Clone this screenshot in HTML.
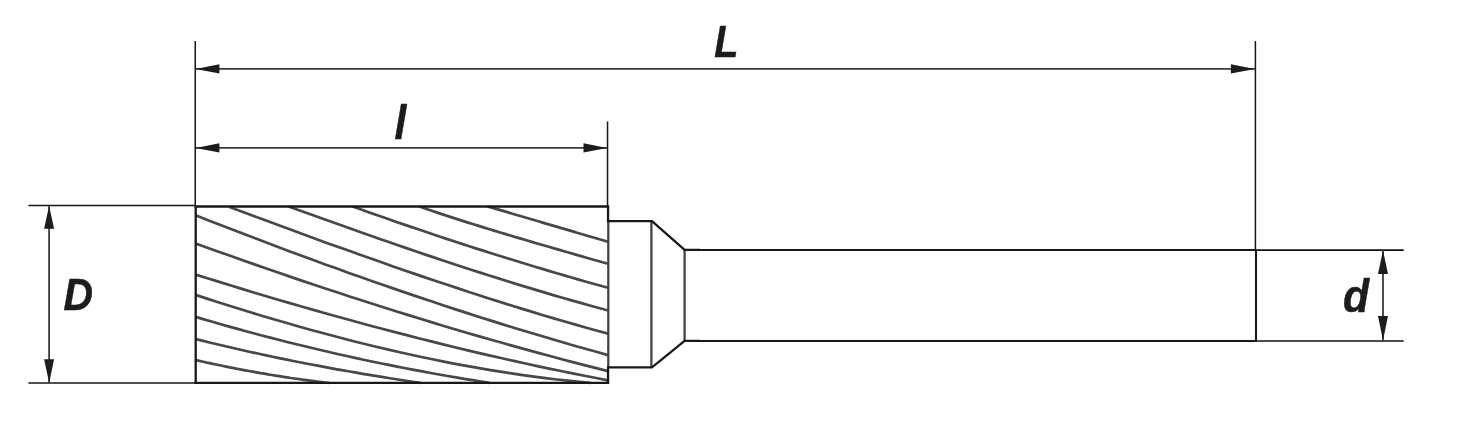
<!DOCTYPE html>
<html><head><meta charset="utf-8"><title>Drawing</title>
<style>
html,body{margin:0;padding:0;background:#fff;}
svg{display:block}
text{font-family:"Liberation Sans",sans-serif;font-weight:bold;font-style:italic;fill:#1c1c1c}
</style></head><body>
<svg width="1469" height="422" viewBox="0 0 1469 422">
<rect width="1469" height="422" fill="#fff"/>
<!-- extension lines -->
<g stroke="#161616" stroke-width="1.5" fill="none">
<path d="M195.25 41 V206"/>
<path d="M607.55 121.4 V206"/>
<path d="M1255.4 41 V250"/>
<path d="M28.4 205.6 H195"/>
<path d="M28.4 383.0 H195" stroke-width="1.6"/>
<path d="M1256 250.05 H1403.7" stroke-width="1.65" stroke="#101010"/>
<path d="M1256 341.0 H1403.7" stroke-width="1.65" stroke="#101010"/>
</g>
<!-- dimension lines -->
<g stroke="#3a3a3a" stroke-width="1.8" fill="none">
<path d="M196 68.95 H1255"/>
<path d="M196 147.95 H607"/>
<path d="M49.1 206 V383"/>
<path d="M1383 250 V341"/>
</g>
<!-- arrowheads -->
<g fill="#1c1c1c">
<path d="M195.6 68.95 L219.4 64.35 V73.55 Z"/>
<path d="M1255 68.95 L1230.9 64.35 V73.55 Z"/>
<path d="M195.6 147.95 L219.4 143.35 V152.55 Z"/>
<path d="M607.2 147.95 L583.5 143.35 V152.55 Z"/>
<path d="M49.1 205.9 L44.1 228.7 H54.1 Z"/>
<path d="M49.1 382.7 L44.1 359.2 H54.1 Z"/>
<path d="M1383 250.2 L1378 274.1 H1388 Z"/>
<path d="M1383 340.6 L1378 316.1 H1388 Z"/>
</g>
<!-- flutes -->
<g stroke="#484848" stroke-width="2.7" fill="none" stroke-linecap="butt">
<path d="M195.6 360.0 L199.4 360.9 L203.2 361.7 L207.0 362.6 L210.8 363.4 L214.7 364.2 L218.5 365.0 L222.3 365.8 L226.1 366.6 L229.9 367.4 L233.7 368.1 L237.5 368.9 L241.3 369.6 L245.1 370.3 L249.0 371.0 L252.8 371.7 L256.6 372.4 L260.4 373.1 L264.2 373.7 L268.0 374.4 L271.8 375.0 L275.6 375.6 L279.5 376.2 L283.3 376.8 L287.1 377.4 L290.9 378.0 L294.7 378.5 L298.5 379.0 L302.3 379.6 L306.1 380.1 L309.9 380.6 L313.8 381.1 L317.6 381.6 L321.4 382.0 L325.2 382.5 L329.0 382.9"/>
<path d="M195.6 339.0 L202.0 340.6 L208.5 342.2 L214.9 343.8 L221.3 345.3 L227.7 346.8 L234.2 348.3 L240.6 349.8 L247.0 351.2 L253.4 352.6 L259.9 354.0 L266.3 355.4 L272.7 356.8 L279.1 358.1 L285.6 359.4 L292.0 360.7 L298.4 362.0 L304.8 363.3 L311.3 364.5 L317.7 365.7 L324.1 366.9 L330.5 368.1 L337.0 369.3 L343.4 370.4 L349.8 371.5 L356.2 372.7 L362.7 373.8 L369.1 374.8 L375.5 375.9 L381.9 376.9 L388.4 378.0 L394.8 379.0 L401.2 380.0 L407.6 381.0 L414.1 382.0 L420.5 382.9"/>
<path d="M195.6 316.9 L204.0 319.4 L212.4 321.8 L220.8 324.2 L229.2 326.6 L237.6 328.9 L246.0 331.2 L254.4 333.5 L262.8 335.7 L271.2 337.9 L279.6 340.0 L288.0 342.2 L296.4 344.3 L304.8 346.3 L313.2 348.3 L321.6 350.3 L330.0 352.2 L338.4 354.2 L346.7 356.0 L355.1 357.9 L363.5 359.7 L371.9 361.5 L380.3 363.2 L388.7 364.9 L397.1 366.6 L405.5 368.3 L413.9 369.9 L422.3 371.4 L430.7 373.0 L439.1 374.5 L447.5 376.0 L455.9 377.4 L464.3 378.9 L472.7 380.2 L481.1 381.6 L489.5 382.9"/>
<path d="M195.6 294.9 L206.9 298.6 L218.2 302.2 L229.4 305.8 L240.7 309.3 L252.0 312.8 L263.3 316.2 L274.6 319.5 L285.9 322.8 L297.1 326.0 L308.4 329.2 L319.7 332.3 L331.0 335.3 L342.3 338.3 L353.6 341.2 L364.8 344.0 L376.1 346.8 L387.4 349.4 L398.7 352.0 L410.0 354.5 L421.3 357.0 L432.5 359.3 L443.8 361.6 L455.1 363.8 L466.4 365.9 L477.7 367.9 L489.0 369.9 L500.2 371.7 L511.5 373.4 L522.8 375.1 L534.1 376.6 L545.4 378.1 L556.7 379.5 L567.9 380.7 L579.2 381.9 L590.5 382.9"/>
<path d="M195.6 274.6 L207.4 278.3 L219.2 281.9 L230.9 285.5 L242.7 289.1 L254.5 292.7 L266.3 296.2 L278.1 299.7 L289.9 303.1 L301.6 306.5 L313.4 309.9 L325.2 313.2 L337.0 316.5 L348.8 319.8 L360.6 323.0 L372.3 326.2 L384.1 329.3 L395.9 332.4 L407.7 335.4 L419.5 338.5 L431.3 341.4 L443.0 344.4 L454.8 347.2 L466.6 350.1 L478.4 352.9 L490.2 355.6 L502.0 358.3 L513.7 360.9 L525.5 363.5 L537.3 366.1 L549.1 368.6 L560.9 371.0 L572.7 373.4 L584.4 375.8 L596.2 378.0 L608.0 380.3"/>
<path d="M195.6 243.4 L207.4 247.7 L219.2 251.9 L230.9 256.1 L242.7 260.3 L254.5 264.4 L266.3 268.5 L278.1 272.5 L289.9 276.6 L301.6 280.6 L313.4 284.5 L325.2 288.5 L337.0 292.3 L348.8 296.2 L360.6 300.0 L372.3 303.8 L384.1 307.5 L395.9 311.2 L407.7 314.9 L419.5 318.5 L431.3 322.1 L443.0 325.7 L454.8 329.2 L466.6 332.7 L478.4 336.1 L490.2 339.5 L502.0 342.8 L513.7 346.1 L525.5 349.4 L537.3 352.6 L549.1 355.8 L560.9 359.0 L572.7 362.1 L584.4 365.1 L596.2 368.1 L608.0 371.1"/>
<path d="M195.6 215.3 L207.4 219.9 L219.2 224.5 L230.9 229.1 L242.7 233.6 L254.5 238.1 L266.3 242.6 L278.1 247.0 L289.9 251.4 L301.6 255.8 L313.4 260.1 L325.2 264.4 L337.0 268.6 L348.8 272.9 L360.6 277.1 L372.3 281.2 L384.1 285.3 L395.9 289.4 L407.7 293.4 L419.5 297.4 L431.3 301.3 L443.0 305.2 L454.8 309.1 L466.6 312.9 L478.4 316.7 L490.2 320.4 L502.0 324.1 L513.7 327.7 L525.5 331.3 L537.3 334.8 L549.1 338.3 L560.9 341.8 L572.7 345.2 L584.4 348.5 L596.2 351.8 L608.0 355.1"/>
<path d="M229.5 207.1 L240.3 211.1 L251.1 215.1 L261.9 219.1 L272.8 223.1 L283.6 227.1 L294.4 231.1 L305.2 235.0 L316.0 238.9 L326.8 242.9 L337.6 246.8 L348.5 250.6 L359.3 254.5 L370.1 258.3 L380.9 262.1 L391.7 265.9 L402.5 269.7 L413.3 273.4 L424.2 277.1 L435.0 280.7 L445.8 284.3 L456.6 287.9 L467.4 291.5 L478.2 295.0 L489.0 298.5 L499.9 301.9 L510.7 305.3 L521.5 308.6 L532.3 311.9 L543.1 315.2 L553.9 318.4 L564.7 321.5 L575.6 324.6 L586.4 327.7 L597.2 330.7 L608.0 333.6"/>
<path d="M288.5 206.5 L297.6 209.7 L306.8 213.0 L315.9 216.3 L325.0 219.6 L334.1 222.8 L343.3 226.1 L352.4 229.3 L361.5 232.5 L370.7 235.7 L379.8 238.9 L388.9 242.1 L398.0 245.2 L407.2 248.4 L416.3 251.5 L425.4 254.6 L434.6 257.6 L443.7 260.7 L452.8 263.7 L461.9 266.7 L471.1 269.7 L480.2 272.6 L489.3 275.5 L498.5 278.4 L507.6 281.3 L516.7 284.1 L525.8 286.9 L535.0 289.6 L544.1 292.4 L553.2 295.1 L562.4 297.7 L571.5 300.4 L580.6 302.9 L589.7 305.5 L598.9 308.0 L608.0 310.5"/>
<path d="M352.5 206.5 L359.8 209.1 L367.1 211.7 L374.4 214.3 L381.7 216.8 L389.0 219.3 L396.3 221.9 L403.6 224.4 L410.9 226.9 L418.2 229.3 L425.5 231.8 L432.8 234.2 L440.1 236.7 L447.4 239.1 L454.7 241.5 L462.0 243.9 L469.3 246.2 L476.6 248.6 L483.9 250.9 L491.2 253.2 L498.5 255.5 L505.8 257.8 L513.1 260.0 L520.4 262.3 L527.7 264.5 L535.0 266.7 L542.3 268.9 L549.6 271.1 L556.9 273.2 L564.2 275.4 L571.5 277.5 L578.8 279.6 L586.1 281.7 L593.4 283.7 L600.7 285.8 L608.0 287.8"/>
<path d="M419.5 206.6 L424.9 208.5 L430.3 210.3 L435.7 212.1 L441.0 213.9 L446.4 215.6 L451.8 217.4 L457.2 219.1 L462.6 220.9 L468.0 222.6 L473.4 224.3 L478.7 225.9 L484.1 227.6 L489.5 229.2 L494.9 230.9 L500.3 232.5 L505.7 234.1 L511.1 235.8 L516.4 237.4 L521.8 238.9 L527.2 240.5 L532.6 242.1 L538.0 243.7 L543.4 245.3 L548.8 246.8 L554.1 248.4 L559.5 249.9 L564.9 251.5 L570.3 253.0 L575.7 254.6 L581.1 256.1 L586.5 257.7 L591.8 259.2 L597.2 260.7 L602.6 262.3 L608.0 263.8"/>
<path d="M487.5 206.5 L490.9 207.4 L494.4 208.4 L497.8 209.4 L501.3 210.4 L504.7 211.4 L508.2 212.4 L511.6 213.5 L515.0 214.5 L518.5 215.5 L521.9 216.5 L525.4 217.5 L528.8 218.5 L532.3 219.5 L535.7 220.5 L539.1 221.5 L542.6 222.6 L546.0 223.6 L549.5 224.6 L552.9 225.6 L556.4 226.6 L559.8 227.6 L563.2 228.6 L566.7 229.6 L570.1 230.6 L573.6 231.6 L577.0 232.7 L580.5 233.7 L583.9 234.7 L587.3 235.7 L590.8 236.7 L594.2 237.7 L597.7 238.7 L601.1 239.7 L604.6 240.7 L608.0 241.7"/>
</g>
<!-- inner gray outlines -->
<g stroke="#444" stroke-width="2.3" fill="none">
<path d="M608.3 221 V367.4"/>
<path d="M651.4 221 V367.4"/>
<path d="M684.6 250 V341"/>
</g>
<!-- black outlines -->
<g stroke="#181818" stroke-width="2.3" fill="none" stroke-linejoin="miter">
<path d="M195.7 205.4 V383.9"/>
<path d="M194.6 206.5 H609.2"/>
<path d="M194.6 382.85 H609.2" stroke-width="2.1"/>
<path d="M608.05 206.5 V221.1 H652 L684.6 249.95 H700 M700 340.9 H684.6 L652 367.3 H608.05 V382.85"/>
<path d="M699 249.95 H1256 V340.9 H699" stroke-width="2.05"/>
</g>
<!-- labels -->
<g style="opacity:0.999" stroke="#1c1c1c" stroke-width="0.5" stroke-linejoin="round">
<text id="tL" transform="translate(714.3 56.5) scale(0.89 1.0)" font-size="44.4">L</text>
<text id="tl" transform="translate(394.6 138.6) scale(0.90 1.0)" font-size="47.2">l</text>
<text id="tD" transform="translate(63.4 309.5) scale(0.92 1.0)" font-size="44.5">D</text>
<text id="td" transform="translate(1343.0 311.5) scale(0.94 1.0)" font-size="45.4">d</text>
</g>
</svg>
</body></html>
